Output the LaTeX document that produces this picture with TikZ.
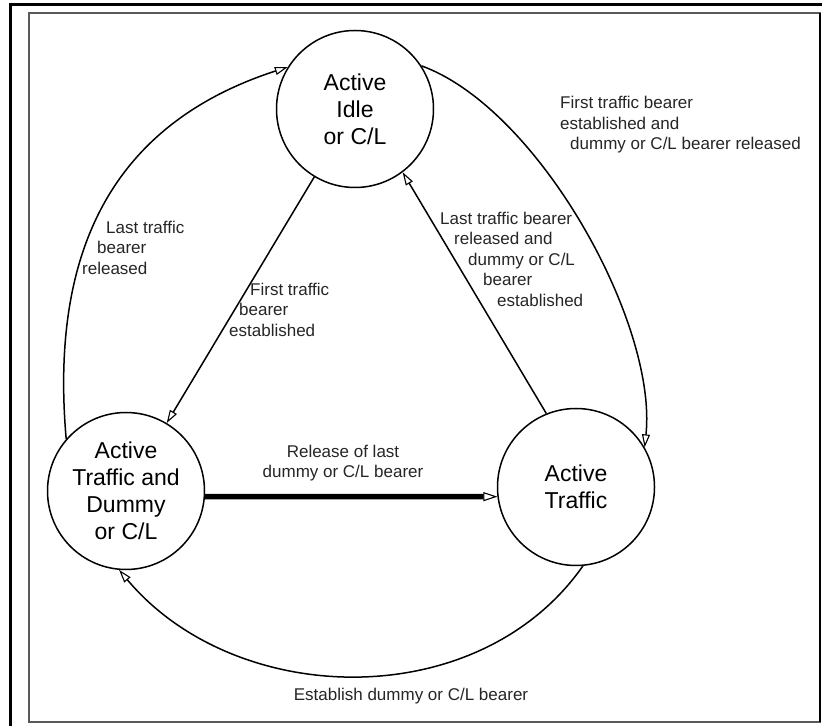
\documentclass[tikz,border=0pt]{standalone}
\usepackage{fontspec}
\setmainfont{Liberation Sans}
\usetikzlibrary{arrows.meta}
\begin{document}
\begin{tikzpicture}[x=1pt,y=1pt,
  state/.style={circle,draw,line width=1.5pt,minimum size=157pt,inner sep=0pt,
    align=center,font=\fontsize{23}{27}\selectfont},
  lbl/.style={inner sep=0pt,align=left,font=\fontsize{17}{20.5}\selectfont,text=black!85},
  clbl/.style={lbl,align=center},
  conn/.style={line width=1.5pt,-{Triangle[open,length=13pt,width=8pt,line width=1.1pt]}},
  heavy/.style={line width=5.5pt,-{Triangle[open,length=14pt,width=9pt,line width=1.1pt]}},
]
\useasboundingbox (0,0) rectangle (822,726);
\fill[white] (0,0) rectangle (822,726);

% page frame
\draw[line width=3pt] (10,0) -- (10,721) -- (822,721);
\draw[line width=1.5pt,black!65] (29,4) rectangle (820,713);
\draw[line width=1.2pt] (820,4) -- (820,713);

% states
\node[state] (idle)  at (355,617) {Active\\Idle\\or C/L};
\node[state] (dummy) at (126,235) {Active\\Traffic and\\Dummy\\or C/L};
\node[state] (traf)  at (576,239) {Active\\Traffic};

% transitions
\draw[conn] (dummy.139) to[out=95,in=198,looseness=1.1] (idle.148);
\draw[conn] (idle.33) to[out=-20,in=84,looseness=0.72] (traf.30);
\draw[conn] (traf.-85) to[out=-125,in=-50,looseness=1.0] (dummy.-95);
\draw[conn] (idle) -- (dummy);
\draw[conn] (traf.112) -- (idle.-53);
\draw[heavy] (dummy.-4) -- (traf.187);

% transition labels
\node[lbl,anchor=north west] (l1) at (560,630)
  {First traffic bearer\\established and\\\hspace*{10pt}dummy or C/L bearer released};
\node[lbl,anchor=north west] (l2) at (82,505.4)
  {\hspace*{24pt}Last traffic\\\hspace*{15pt}bearer\\released};
\node[lbl,anchor=north west] (l3) at (229,443.4)
  {\hspace*{21pt}First traffic\\\hspace*{10pt}bearer\\established};
\node[lbl,anchor=north west] (l4) at (440,514.4)
  {Last traffic bearer\\\hspace*{14pt}released and\\\hspace*{28pt}dummy or C/L\\\hspace*{43pt}bearer\\\hspace*{57pt}established};
\node[clbl,anchor=north] (l5) at (343,281.4)
  {Release of last\\dummy or C/L bearer};
\node[lbl,anchor=base] (l6) at (411,26) {Establish dummy or C/L bearer};
\end{tikzpicture}
\end{document}
